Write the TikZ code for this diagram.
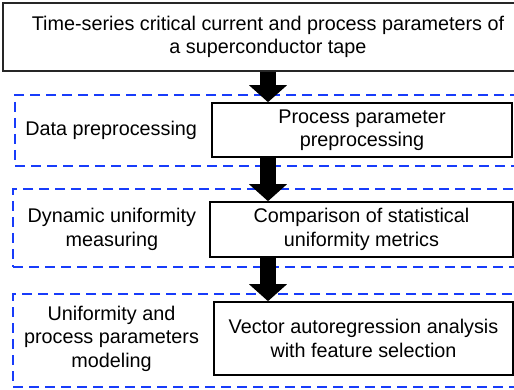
\documentclass[tikz,border=0pt]{standalone}
\usepackage{fontspec}
\setmainfont{Liberation Sans}
\usepackage{tikz}
\usetikzlibrary{positioning,arrows.meta}
\definecolor{grpblue}{RGB}{24,60,250}
\tikzset{
  box/.style    = {draw, line width=1.6pt, align=center, inner sep=0pt, fill=white},
  topbox/.style = {box, line width=2.2pt, draw=black!85},
  grp/.style    = {draw=grpblue, line width=2pt, dash pattern=on 10pt off 6pt, inner sep=0pt},
  lbl/.style    = {align=center, inner sep=0pt},
  flow/.style   = {line width=16pt, -{Triangle[length=17pt,width=37pt]}},
}

\begin{document}
\begin{tikzpicture}[x=1pt, y=-1pt, font=\fontsize{19.8}{23.5}\selectfont]
  \useasboundingbox (0,0) rectangle (514,390);
  \clip (0,0) rectangle (514,390);
  % dashed stage frames (right sides run off the page)
  \node[grp, minimum width=585pt, minimum height=71pt] (g1) at (307.5,130.5) {};
  \node[grp, minimum width=587pt, minimum height=78pt] (g2) at (306.5,228) {};
  \node[grp, minimum width=587pt, minimum height=93pt] (g3) at (306.5,340.5) {};
  % boxes
  \node[topbox, minimum width=530pt, minimum height=68pt] (src) at (268,37)
    {Time-series critical current and process parameters of\\a superconductor tape};
  \node[box, minimum width=300pt, minimum height=54pt] (pp) at (362,130)
    {Process parameter\\preprocessing};
  \node[box, minimum width=303pt, minimum height=55pt] (cmp) at (361.5,229.5)
    {Comparison of statistical\\uniformity metrics};
  \node[box, minimum width=299pt, minimum height=73pt] (var) at (363.5,338.5)
    {Vector autoregression analysis\\with feature selection};
  % stage labels
  \node[lbl, left=14pt of pp] (l1) {Data preprocessing};
  \node[lbl, left=13pt of cmp] (l2) {Dynamic uniformity\\measuring};
  \node[lbl, left=14pt of var] (l3) {Uniformity and\\process parameters\\modeling};
  % arrows
  \draw[flow] (src.south) -- (src.south |- pp.north);
  \draw[flow] (pp.south -| src.south) -- (src.south |- cmp.north);
  \draw[flow] (cmp.south -| src.south) -- (src.south |- var.north);
\end{tikzpicture}
\end{document}
